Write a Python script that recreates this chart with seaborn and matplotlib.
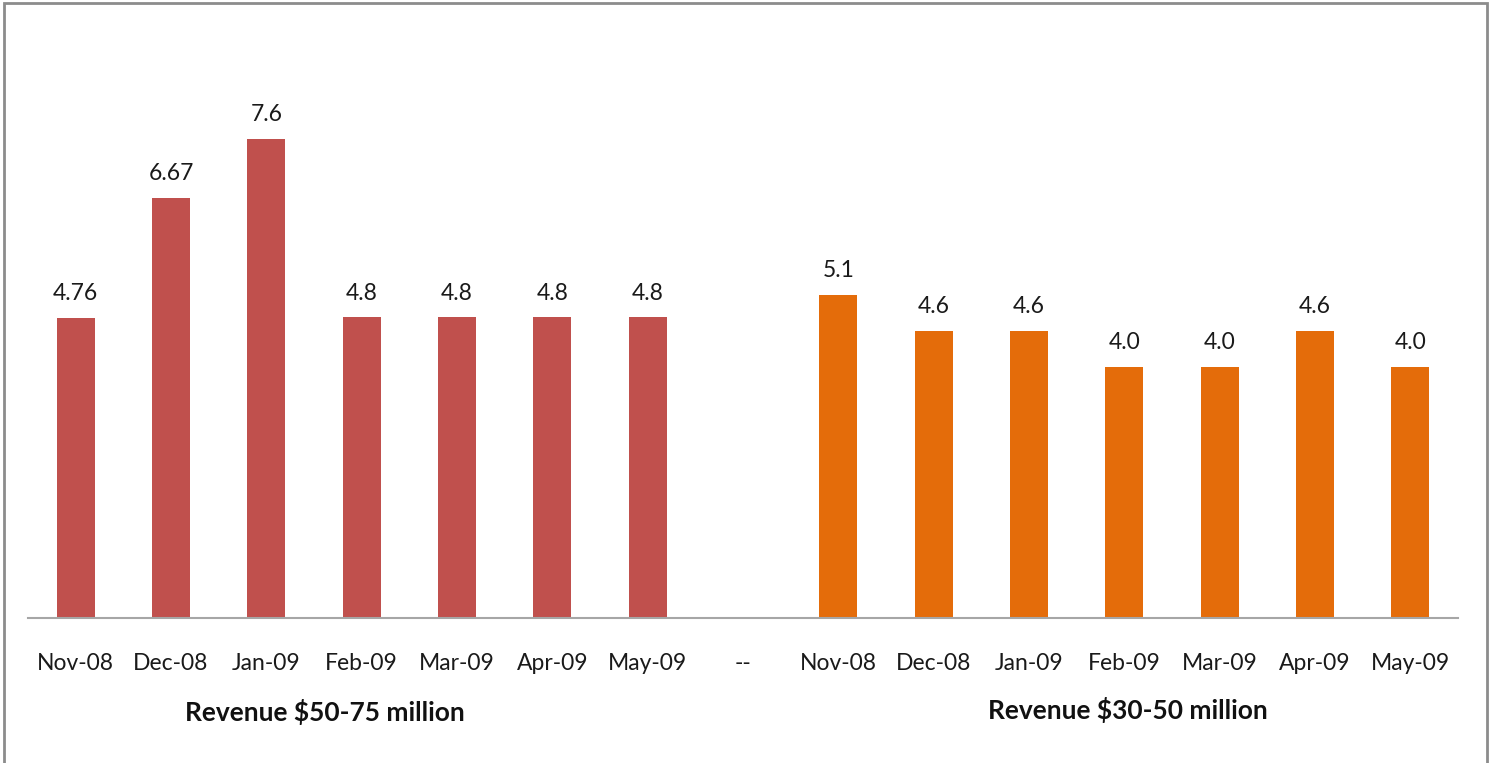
import matplotlib
matplotlib.use("Agg")
import matplotlib.pyplot as plt
import seaborn as sns
import pandas as pd
import numpy as np
from matplotlib.patches import Rectangle

months = ["Nov-08", "Dec-08", "Jan-09", "Feb-09", "Mar-09", "Apr-09", "May-09"]
# bar heights; labels as printed on the chart
values_50_75 = [4.76, 6.67, 7.61, 4.77, 4.77, 4.77, 4.77]
labels_50_75 = ["4.76", "6.67", "7.6", "4.8", "4.8", "4.8", "4.8"]
values_30_50 = [5.13, 4.56, 4.56, 3.99, 3.99, 4.56, 3.99]
labels_30_50 = ["5.1", "4.6", "4.6", "4.0", "4.0", "4.6", "4.0"]
separator = "--"
group_names = ["Revenue $50-75 million", "Revenue $30-50 million"]
colors = ["#C0504D", "#E46C0A"]

tick_labels = months + [separator] + months
slot_ids = [str(i) for i in range(len(tick_labels))]

df = pd.DataFrame({
    "slot": slot_ids[:7] + slot_ids[8:],
    "value": values_50_75 + values_30_50,
    "label": labels_50_75 + labels_30_50,
    "group": [group_names[0]] * 7 + [group_names[1]] * 7,
})

sns.set_theme(style="white")
plt.rcParams["font.family"] = ["Lato", "DejaVu Sans"]

FS = 16.5
TXT = "#1a1a1a"

fig = plt.figure(figsize=(14.94, 7.63), dpi=100)
ax = fig.add_axes([28 / 1494, 1 - 618 / 763, 1430 / 1494, 567 / 763])

sns.barplot(data=df, x="slot", y="value", hue="group", order=slot_ids,
            hue_order=group_names, palette=colors, dodge=False, width=0.4,
            saturation=1, legend=False, ax=ax, linewidth=0)

ax.set_ylim(0, 9)
ax.set_xlim(-0.5, len(slot_ids) - 0.5)
ax.set_xticks(range(len(slot_ids)))
ax.set_xticklabels(tick_labels, fontsize=FS, color=TXT)
ax.tick_params(axis="x", length=0, pad=25)
ax.set_yticks([])
ax.set_xlabel("")
ax.set_ylabel("")
for s in ["left", "right", "top"]:
    ax.spines[s].set_visible(False)
ax.spines["bottom"].set_color("#A6A6A6")
ax.spines["bottom"].set_linewidth(1.5)

for x, (v, lab) in enumerate(zip(values_50_75, labels_50_75)):
    ax.annotate(lab, (x, v), xytext=(0, 10), textcoords="offset points",
                ha="center", va="bottom", fontsize=FS, color=TXT)
for i, (v, lab) in enumerate(zip(values_30_50, labels_30_50)):
    ax.annotate(lab, (i + 8, v), xytext=(0, 10), textcoords="offset points",
                ha="center", va="bottom", fontsize=FS, color=TXT)

fig.text(325 / 1494, 1 - 712 / 763, group_names[0], ha="center", va="center",
         fontsize=19, fontweight="bold", color="#111111")
fig.text(1128 / 1494, 1 - 710 / 763, group_names[1], ha="center", va="center",
         fontsize=19, fontweight="bold", color="#111111")

fig.patches.append(Rectangle((4 / 1494, -0.02), 1483 / 1494, 1.02 - 3 / 763,
                             transform=fig.transFigure, fill=False,
                             edgecolor="#8C8C8C", linewidth=2))

fig.savefig("out.png", dpi=100)
